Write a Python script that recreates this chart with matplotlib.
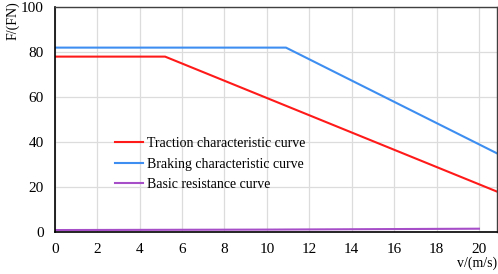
import matplotlib.pyplot as plt
import numpy as np

plt.rcParams['font.family'] = ['Liberation Serif', 'DejaVu Serif']

# data
v_traction = [0, 5.2, 20.85]
f_traction = [78, 78, 18]
v_braking = [0, 10.9, 20.85]
f_braking = [82, 82, 35]
v_resist = [0, 5, 10, 15, 20]
f_resist = [0.9, 1.0, 1.1, 1.3, 1.5]

xticks = [0, 2, 4, 6, 8, 10, 12, 14, 16, 18, 20]
yticks = [0, 20, 40, 60, 80, 100]

fig = plt.figure(figsize=(4.98, 2.74), dpi=100)
ax = fig.add_axes([0.110, 0.153, 0.888, 0.821])

ax.plot(v_traction, f_traction, color='#ff1a1a', lw=1.5, label='Traction characteristic curve')
ax.plot(v_braking, f_braking, color='#3d8ef0', lw=1.5, label='Braking characteristic curve')
ax.plot(v_resist, f_resist, color='#a64dc8', lw=1.5, label='Basic resistance curve')

ax.set_xlim(0, 20.85)
ax.set_ylim(0, 100)
ax.set_xticks(xticks)
ax.set_yticks(yticks)
ax.grid(True, color='#dcdcdc', lw=0.9)
ax.set_axisbelow(True)
ax.tick_params(length=0, labelsize=11)
ax.tick_params(axis='y', pad=8)
ax.tick_params(axis='x', pad=8)
for s in ['left', 'bottom']:
    ax.spines[s].set_color('black')
    ax.spines[s].set_linewidth(1.2)
for s in ['top', 'right']:
    ax.spines[s].set_color('#404040')
    ax.spines[s].set_linewidth(1.0)

ax.legend(loc='upper left', bbox_to_anchor=(0.108, 0.478), frameon=False,
          fontsize=10, handlelength=2.0, handletextpad=0.3, labelspacing=0.55)

fig.text(0.012, 0.995, 'F/(FN)', rotation=90, ha='left', va='top', fontsize=10)
fig.text(0.999, 0.015, 'v/(m/s)', ha='right', va='bottom', fontsize=10)

fig.savefig('out.png', dpi=100)
